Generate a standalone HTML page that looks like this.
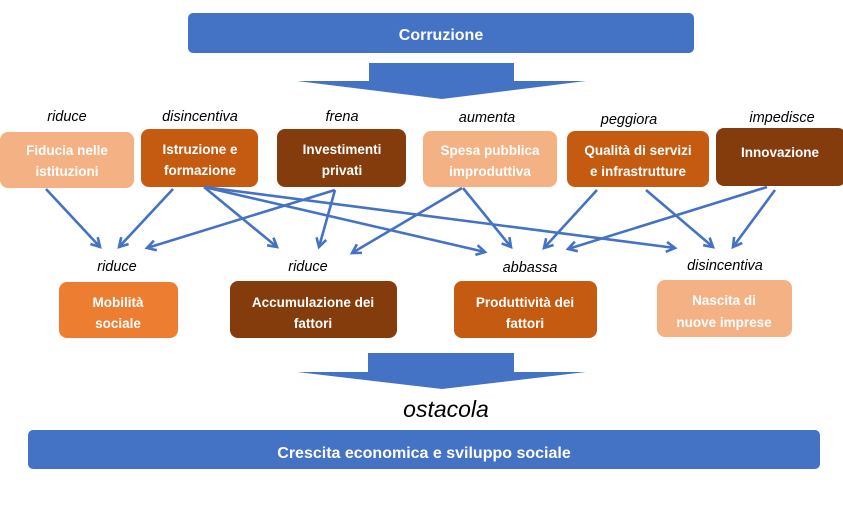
<!DOCTYPE html>
<html><head><meta charset="utf-8"><style>
html,body{margin:0;padding:0;background:#fff;width:843px;height:514px;overflow:hidden}
svg{display:block}
.bt{font-family:"Liberation Sans",sans-serif;font-weight:bold;font-size:13.5px;fill:#fff;text-anchor:middle}
.lb{font-family:"Liberation Sans",sans-serif;font-style:italic;font-size:14.5px;fill:#000;text-anchor:middle}
.big{font-family:"Liberation Sans",sans-serif;font-weight:bold;font-size:16px;fill:#fff;text-anchor:middle}
.ar{stroke:#4472C4;stroke-width:2.6;fill:none;marker-end:url(#ah)}
</style></head><body>
<svg width="843" height="514" viewBox="0 0 843 514" xmlns="http://www.w3.org/2000/svg">
<defs>
<marker id="ah" markerUnits="userSpaceOnUse" markerWidth="14" markerHeight="14" refX="10" refY="6" orient="auto" viewBox="0 0 14 12" style="overflow:visible">
<path d="M1.3,1 L10,6 L1.3,11" fill="none" stroke="#4472C4" stroke-width="2.6" stroke-linejoin="miter"/>
</marker>
</defs>

<!-- Corruzione -->
<rect x="188" y="13" width="506" height="40" rx="5" fill="#4472C4"/>
<text class="big" x="441" y="40">Corruzione</text>

<!-- top block arrow -->
<polygon points="369,63 514,63 514,81 586,81 442,99 297,81 369,81" fill="#4472C4"/>

<!-- labels top -->
<text class="lb" x="67" y="121">riduce</text>
<text class="lb" x="200" y="121">disincentiva</text>
<text class="lb" x="342" y="121">frena</text>
<text class="lb" x="487" y="122">aumenta</text>
<text class="lb" x="629" y="124">peggiora</text>
<text class="lb" x="782" y="122">impedisce</text>

<!-- top boxes -->
<rect x="0" y="132" width="134" height="56" rx="8" fill="#F4B183"/>
<text class="bt" x="67" y="155">Fiducia nelle</text>
<text class="bt" x="67" y="176">istituzioni</text>

<rect x="141" y="129" width="117" height="58" rx="8" fill="#C55A11"/>
<text class="bt" x="200" y="154">Istruzione e</text>
<text class="bt" x="200" y="175">formazione</text>

<rect x="277" y="129" width="129" height="58" rx="8" fill="#843C0C"/>
<text class="bt" x="342" y="154">Investimenti</text>
<text class="bt" x="342" y="175">privati</text>

<rect x="423" y="131" width="134" height="56" rx="8" fill="#F4B183"/>
<text class="bt" x="490" y="155">Spesa pubblica</text>
<text class="bt" x="490" y="176">improduttiva</text>

<rect x="567" y="131" width="142" height="56" rx="8" fill="#C55A11"/>
<text class="bt" x="638" y="155">Qualità di servizi</text>
<text class="bt" x="638" y="176">e infrastrutture</text>

<rect x="716" y="128" width="130" height="58" rx="8" fill="#843C0C"/>
<text class="bt" x="780" y="157">Innovazione</text>

<!-- connectors -->
<line class="ar" x1="46" y1="189" x2="100" y2="247"/>
<line class="ar" x1="173" y1="189" x2="119" y2="247"/>
<line class="ar" x1="335" y1="190" x2="147" y2="248"/>
<line class="ar" x1="204" y1="187" x2="277" y2="247"/>
<line class="ar" x1="335" y1="190" x2="319" y2="247"/>
<line class="ar" x1="204" y1="187" x2="485" y2="252"/>
<line class="ar" x1="204" y1="187" x2="675" y2="248"/>
<line class="ar" x1="462" y1="188" x2="352" y2="253"/>
<line class="ar" x1="463" y1="188" x2="511" y2="247"/>
<line class="ar" x1="597" y1="190" x2="544" y2="248"/>
<line class="ar" x1="646" y1="190" x2="713" y2="247"/>
<line class="ar" x1="767" y1="187" x2="568" y2="249"/>
<line class="ar" x1="775" y1="190" x2="733" y2="247"/>

<!-- labels bottom -->
<text class="lb" x="117" y="271">riduce</text>
<text class="lb" x="308" y="271">riduce</text>
<text class="lb" x="530" y="272">abbassa</text>
<text class="lb" x="725" y="270">disincentiva</text>

<!-- bottom boxes -->
<rect x="59" y="282" width="119" height="56" rx="8" fill="#ED7D31"/>
<text class="bt" x="118" y="307">Mobilità</text>
<text class="bt" x="118" y="328">sociale</text>

<rect x="230" y="281" width="167" height="57" rx="8" fill="#843C0C"/>
<text class="bt" x="313" y="307">Accumulazione dei</text>
<text class="bt" x="313" y="328">fattori</text>

<rect x="454" y="281" width="143" height="57" rx="8" fill="#C55A11"/>
<text class="bt" x="525" y="307">Produttività dei</text>
<text class="bt" x="525" y="328">fattori</text>

<rect x="657" y="280" width="135" height="57" rx="8" fill="#F4B183"/>
<text class="bt" x="724" y="305">Nascita di</text>
<text class="bt" x="724" y="327">nuove imprese</text>

<!-- bottom block arrow -->
<polygon points="368,353 514,353 514,372 586,372 442,389 297,372 368,372" fill="#4472C4"/>

<text x="446" y="417" style="font-family:'Liberation Sans',sans-serif;font-style:italic;font-size:23px;fill:#000;text-anchor:middle">ostacola</text>

<!-- Crescita -->
<rect x="28" y="430" width="792" height="39" rx="5" fill="#4472C4"/>
<text class="big" x="424" y="458">Crescita economica e sviluppo sociale</text>
</svg>
</body></html>
